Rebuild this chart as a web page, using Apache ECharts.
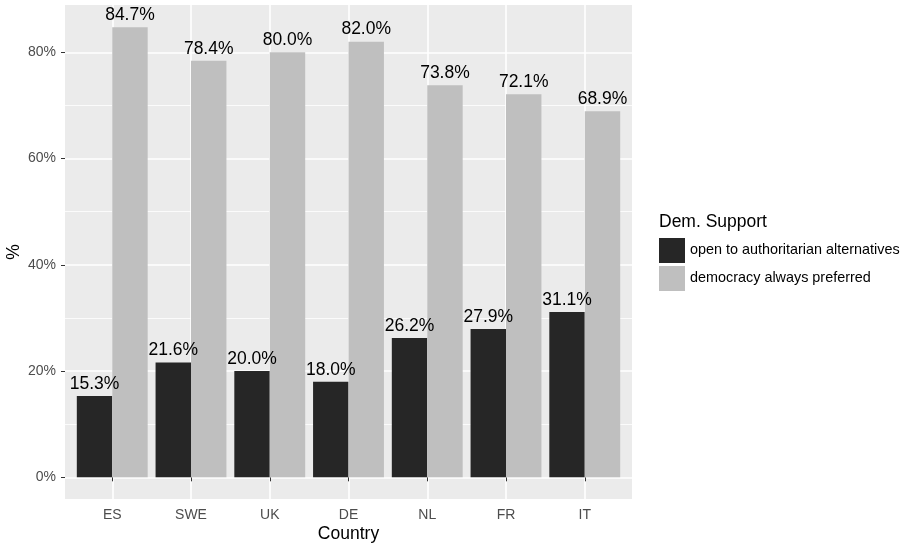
<!DOCTYPE html>
<html>
<head>
<meta charset="utf-8">
<script src="https://cdn.jsdelivr.net/npm/echarts@6/dist/echarts.min.js"></script>
<style>
html,body{margin:0;padding:0;background:#fff;}
#chart{width:905px;height:544px;}
</style>
</head>
<body>
<div id="chart"></div>
<script>
const categories = ['ES', 'SWE', 'UK', 'DE', 'NL', 'FR', 'IT'];
const openToAuthoritarian = [15.3, 21.6, 20.0, 18.0, 26.2, 27.9, 31.1];
const democracyPreferred = [84.7, 78.4, 80.0, 82.0, 73.8, 72.1, 68.9];
const seriesNames = ['open to authoritarian alternatives', 'democracy always preferred'];
const legendTitle = 'Dem. Support';
const yTickMin = 0, yTickMax = 80, yTickStep = 20;

const FONT = '"Liberation Sans", Arial, Helvetica, sans-serif';
const chart = echarts.init(document.getElementById('chart'), null, {renderer: 'canvas'});

const yMin = -4.08, yMax = 88.9;

const option = {
  animation: false,
  backgroundColor: '#FFFFFF',
  textStyle: {fontFamily: FONT},
  title: {
    text: legendTitle,
    left: 659, top: 213, padding: 0,
    textStyle: {fontFamily: FONT, fontSize: 17.5, fontWeight: 'normal', color: '#000000'}
  },
  legend: {
    orient: 'vertical', left: 659, top: 238, padding: 0,
    itemWidth: 26, itemHeight: 25, itemGap: 3, icon: 'rect',
    textStyle: {fontFamily: FONT, fontSize: 14.4, color: '#000000', padding: [3, 0, 0, 0]},
    data: seriesNames
  },
  grid: [
    {left: 65, right: 273, top: 5, bottom: 45, show: true, backgroundColor: '#EBEBEB', borderWidth: 0, outerBoundsMode: 'none', containLabel: false},
    {left: 112.25, right: 320.25, top: 5, bottom: 45, show: false, outerBoundsMode: 'none', containLabel: false},
    {left: 65, right: 273, top: 52.3, bottom: 66.7, show: false, outerBoundsMode: 'none', containLabel: false}
  ],
  xAxis: [
    {gridIndex: 0, type: 'value', show: false},
    {
      gridIndex: 1, type: 'category', data: categories, boundaryGap: false,
      axisLine: {show: false},
      axisTick: {show: true, length: 4, lineStyle: {color: '#333333', width: 1}},
      axisLabel: {fontFamily: FONT, fontSize: 14, color: '#4D4D4D', margin: 9},
      splitLine: {show: true, lineStyle: {color: '#FFFFFF', width: 1.6}},
      name: 'Country', nameLocation: 'middle', nameGap: 26, nameMoveOverlap: false,
      nameTextStyle: {fontFamily: FONT, fontSize: 17.5, color: '#000000'}
    },
    {gridIndex: 2, type: 'value', show: false}
  ],
  yAxis: [
    {
      gridIndex: 0, type: 'value', min: yMin, max: yMax,
      axisLine: {show: false}, axisTick: {show: false}, axisLabel: {show: false}, splitLine: {show: false},
      name: '%', nameLocation: 'middle', nameRotate: 90, nameGap: 42, nameMoveOverlap: false,
      nameTextStyle: {fontFamily: FONT, fontSize: 17.5, color: '#000000'}
    },
    {gridIndex: 1, type: 'value', min: yMin, max: yMax, show: false, splitLine: {show: false}},
    {
      gridIndex: 2, type: 'value', min: yTickMin, max: yTickMax, interval: yTickStep,
      axisLine: {show: false},
      axisTick: {show: true, length: 4, lineStyle: {color: '#333333', width: 1}},
      axisLabel: {fontFamily: FONT, fontSize: 14, color: '#4D4D4D', margin: 9, formatter: '{value}%'},
      splitLine: {show: true, lineStyle: {color: '#FFFFFF', width: 1.6}},
      minorTick: {show: false, splitNumber: 2},
      minorSplitLine: {show: true, lineStyle: {color: '#FFFFFF', width: 0.8}}
    }
  ],
  series: [
    {
      name: seriesNames[0], type: 'bar', xAxisIndex: 1, yAxisIndex: 1,
      data: openToAuthoritarian, barWidth: '45%', barGap: '0%', clip: false,
      itemStyle: {color: '#262626'},
      label: {show: true, position: 'top', distance: 3, fontFamily: FONT, fontSize: 17.5, color: '#000000',
        formatter: p => p.value.toFixed(1) + '%'}
    },
    {
      name: seriesNames[1], type: 'bar', xAxisIndex: 1, yAxisIndex: 1,
      data: democracyPreferred, barWidth: '45%', barGap: '0%', clip: false,
      itemStyle: {color: '#BFBFBF'},
      label: {show: true, position: 'top', distance: 3, fontFamily: FONT, fontSize: 17.5, color: '#000000',
        formatter: p => p.value.toFixed(1) + '%'}
    }
  ]
};
chart.setOption(option);
</script>
</body>
</html>
